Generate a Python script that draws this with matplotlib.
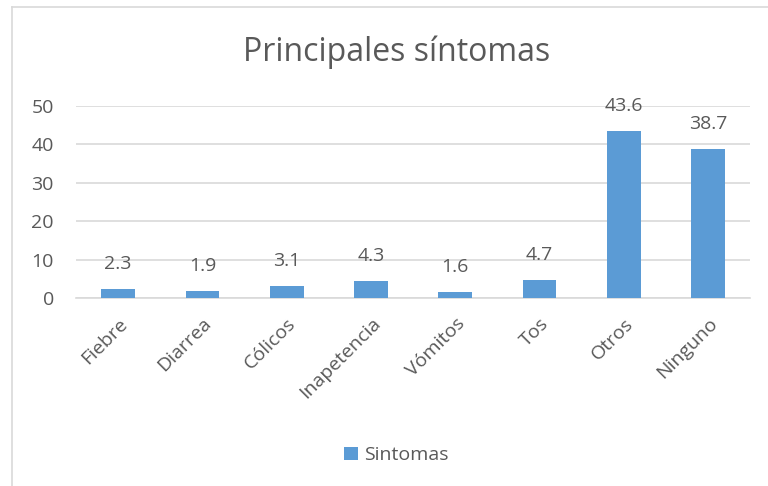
import numpy as np
import matplotlib.pyplot as plt
from matplotlib.lines import Line2D

# -------------------------
# Data
# -------------------------
categorias = ['Fiebre', 'Diarrea', 'Cólicos', 'Inapetencia', 'Vómitos', 'Tos', 'Otros', 'Ninguno']
valores = [2.3, 1.9, 3.1, 4.3, 1.6, 4.7, 43.6, 38.7]
serie = 'Sintomas'
titulo = 'Principales síntomas'

bar_color = '#5B9BD5'
text_color = '#595959'
grid_color = '#D9D9D9'

plt.rcParams['font.family'] = ['Open Sans', 'DejaVu Sans']

fig = plt.figure(figsize=(7.68, 4.86), dpi=100)
ax = fig.add_axes([0.099, 0.387, 0.878, 0.395])

x = np.arange(len(categorias))
bars = ax.bar(x, valores, width=0.4, color=bar_color, label=serie, zorder=3)

ax.set_xlim(-0.5, len(categorias) - 0.5)
ax.set_ylim(0, 50)
ax.set_yticks(np.arange(0, 51, 10))
ax.yaxis.grid(True, color=grid_color, linewidth=1.2, zorder=0)
ax.tick_params(axis='both', length=0, colors=text_color, labelsize=14)
ax.tick_params(axis='y', pad=16)
for s in ['top', 'right', 'left']:
    ax.spines[s].set_visible(False)
ax.spines['bottom'].set_color(grid_color)
ax.spines['bottom'].set_linewidth(1.2)

ax.set_xticks(x)
ax.set_xticklabels(categorias, rotation=45, ha='right', rotation_mode='anchor')
ax.tick_params(axis='x', pad=12)

# data labels
for b, v in zip(bars, valores):
    ax.annotate(f'{v}', (b.get_x() + b.get_width() / 2, v),
                xytext=(0, 18), textcoords='offset points',
                ha='center', va='center', fontsize=14, color=text_color)

fig.text(0.516, 0.893, titulo, ha='center', va='center', fontsize=23, color=text_color)

fig.legend(loc='center', bbox_to_anchor=(0.516, 0.063), frameon=False,
           fontsize=14, labelcolor=text_color, handlelength=0.7, handleheight=0.7,
           handletextpad=0.3)

# chart border (left and top visible)
fig.add_artist(Line2D([12 / 768, 12 / 768], [0, 1 - 7 / 486], transform=fig.transFigure,
                      color=grid_color, linewidth=1.2))
fig.add_artist(Line2D([12 / 768, 1], [1 - 7 / 486, 1 - 7 / 486], transform=fig.transFigure,
                      color=grid_color, linewidth=1.2))

fig.savefig('out.png', dpi=100)
